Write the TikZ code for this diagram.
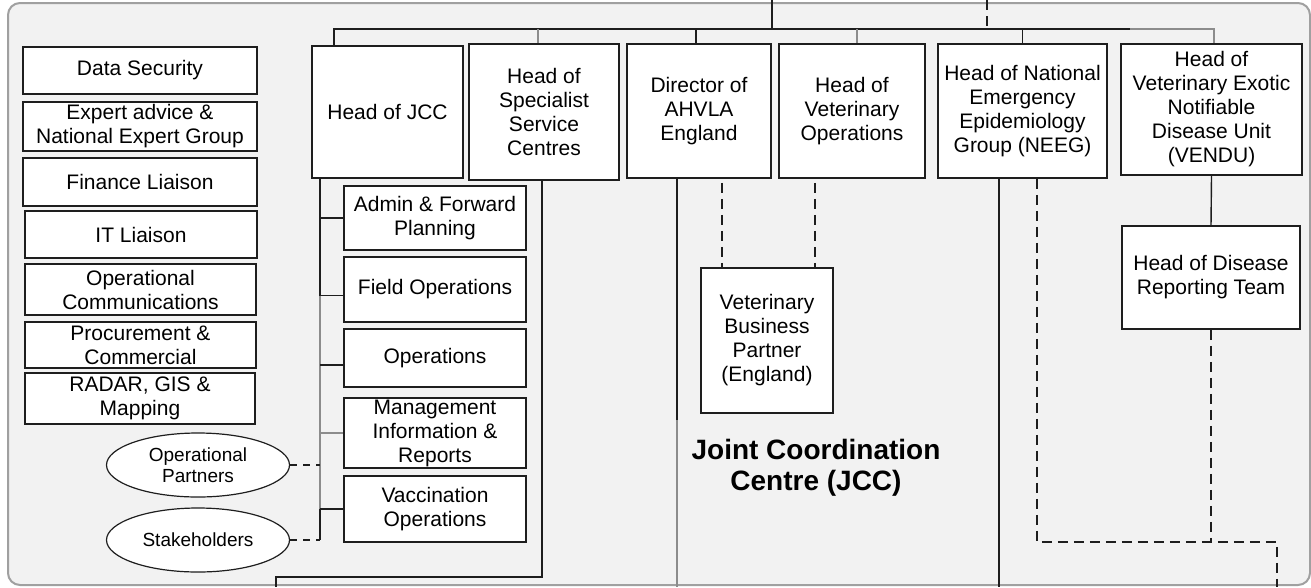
\documentclass[tikz,border=0pt]{standalone}
\usepackage{fontspec}
\setmainfont{Liberation Sans}
\usetikzlibrary{shapes.geometric}
\definecolor{framefill}{HTML}{F2F2F2}
\definecolor{framedraw}{HTML}{A0A0A0}
\definecolor{lgray}{HTML}{8C8C8C}
\definecolor{ink}{HTML}{1E1E1E}
\begin{document}
\begin{tikzpicture}[x=1pt,y=-1pt,
 box/.style={draw=ink, fill=white, line width=1.5pt, align=center, inner sep=0pt, font=\fontsize{21}{24}\selectfont},
 oval/.style={ellipse, draw=ink, fill=white, line width=1.2pt, align=center, inner sep=0pt, font=\fontsize{19}{21}\selectfont},
 conn/.style={line width=1.4pt, draw=ink},
 gconn/.style={line width=1.4pt, draw=lgray},
 dconn/.style={line width=1.4pt, draw=ink, dash pattern=on 10pt off 6pt},
 sdconn/.style={line width=1.4pt, draw=ink, dash pattern=on 7pt off 6pt},
]
\useasboundingbox (0,0) rectangle (1311,587);
\fill[white] (0,0) rectangle (1311,587);
\draw[draw=framedraw, fill=framefill, line width=2pt, rounded corners=12pt] (8,3) rectangle (1310,585);

% left column
\node[box, minimum width=234pt, minimum height=47pt] (ds) at (140,70.5) {Data Security};
\node[box, minimum width=234pt, minimum height=49pt] (ea) at (140,126.5) {Expert advice \&\\National Expert Group};
\node[box, minimum width=234pt, minimum height=48pt] (fl) at (140,182) {Finance Liaison};
\node[box, minimum width=232pt, minimum height=47pt] (it) at (141,234.5) {IT Liaison};
\node[box, minimum width=231pt, minimum height=51pt] (oc) at (140.5,289.5) {Operational\\Communications};
\node[box, minimum width=231pt, minimum height=46pt] (pc) at (140.5,345) {Procurement \&\\Commercial};
\node[box, minimum width=230pt, minimum height=51pt] (rd) at (140,398.5) {RADAR, GIS \&\\Mapping};
\node[oval, minimum width=183pt, minimum height=64pt] (opp) at (198,465) {Operational\\Partners};
\node[oval, minimum width=183pt, minimum height=64pt] (stk) at (198,540) {Stakeholders};

% top row
\node[box, minimum width=151pt, minimum height=132pt] (hjcc) at (387.5,112) {Head of JCC};
\node[box, minimum width=150pt, minimum height=136pt] (hssc) at (544,112) {Head of\\Specialist\\Service\\Centres};
\node[box, minimum width=144pt, minimum height=134pt] (dir) at (699,111) {Director of\\AHVLA\\England};
\node[box, minimum width=146pt, minimum height=134pt] (hvo) at (852,111) {Head of\\Veterinary\\Operations};
\node[box, minimum width=169pt, minimum height=134pt] (neeg) at (1022.5,111) {Head of National\\Emergency\\Epidemiology\\Group (NEEG)};
\node[box, minimum width=181pt, minimum height=131pt] (vendu) at (1211.5,109.5) {Head of\\Veterinary Exotic\\Notifiable\\Disease Unit\\(VENDU)};

% lower boxes
\node[box, minimum width=178pt, minimum height=103pt] (hdrt) at (1211,277.5) {Head of Disease\\Reporting Team};
\node[box, minimum width=132pt, minimum height=145pt] (vbp) at (767,340.5) {Veterinary\\Business\\Partner\\(England)};
\node[box, minimum width=182pt, minimum height=64pt] (adm) at (435,218) {Admin \& Forward\\Planning};
\node[box, minimum width=182pt, minimum height=65pt] (fo) at (435,289.5) {Field Operations};
\node[box, minimum width=182pt, minimum height=58pt] (ops) at (435,358) {Operations};
\node[box, minimum width=182pt, minimum height=70pt] (mir) at (435,433) {Management\\Information \&\\Reports};
\node[box, minimum width=182pt, minimum height=66pt] (vac) at (435,509) {Vaccination\\Operations};

\node[font=\fontsize{28}{31}\bfseries\selectfont, align=center] (jcc) at (816,468) {Joint Coordination\\Centre (JCC)};

% top bus
\coordinate (topA) at (772,0);
\coordinate (busA) at (772,29);
\coordinate (topB) at (987,0);
\coordinate (busB) at (987,29);
\coordinate (busL) at (334,29);
\coordinate (busG) at (1130,29);
\coordinate (busR) at (1214,29);
\draw[line width=2.6pt, draw=ink] (topA) -- (busA);
\draw[dconn] (topB) -- (busB);
\draw[conn] (busL |- hjcc.north) -- (busL) -- (busG);
\draw[gconn] (busG) -- (busR) -- (busR |- vendu.north);
\draw[gconn] ([xshift=-6pt]hssc.north |- busL) -- ([xshift=-6pt]hssc.north);
\draw[conn] ([xshift=-3pt]dir.north |- busL) -- ([xshift=-3pt]dir.north);
\draw[gconn] ([xshift=5pt]hvo.north |- busL) -- ([xshift=5pt]hvo.north);
\draw[conn] (neeg.north |- busL) -- (neeg.north);

% head of JCC branches
\coordinate (jv) at (320,540);
\coordinate (jvg) at (320,296);
\draw[conn] (jv |- hjcc.south) -- (jvg);
\draw[gconn] (jvg) -- (jv |- vac.west);
\draw[conn] (jv |- vac.west) -- (jv);
\draw[conn] (jv |- adm.west) -- (adm.west);
\draw[conn] ([yshift=-6pt]jv |- fo.west) -- ([yshift=-6pt]fo.west);
\draw[conn] ([yshift=-7pt]jv |- ops.west) -- ([yshift=-7pt]ops.west);
\draw[gconn] (jv |- mir.west) -- (mir.west);
\draw[conn] (jv |- vac.west) -- (vac.west);
\draw[sdconn] (opp.east) -- (jv |- opp.east);
\draw[sdconn] (stk.east) -- (jv |- stk.east);

% specialist service centres down and out
\coordinate (sA) at (542,577);
\coordinate (sB) at (276,587);
\draw[conn] (sA |- hssc.south) -- (sA) -- (sB |- sA) -- (sB);

% director
\coordinate (dMid) at (677,420);
\coordinate (dEnd) at (677,587);
\draw[conn] (dMid |- dir.south) -- (dMid);
\draw[gconn] (dMid) -- (dEnd);
\coordinate (d1) at (722,0);
\coordinate (d2) at (815,0);
\draw[dconn] ([yshift=-4pt]d1 |- dir.south) -- (d1 |- vbp.north);
\draw[dconn] ([yshift=-4pt]d2 |- hvo.south) -- (d2 |- vbp.north);

% NEEG
\coordinate (nEnd) at (999,587);
\draw[conn] (nEnd |- neeg.south) -- (nEnd);
\coordinate (nd) at (1037,542);
\coordinate (ndEnd) at (1277,587);
\draw[dconn] (nd |- neeg.south) -- (nd) -- (ndEnd |- nd) -- (ndEnd);
\draw[dconn] (hdrt.south) -- (hdrt.south |- nd);

% VENDU
\draw[conn] (vendu.south) -- (hdrt.north);
\end{tikzpicture}
\end{document}
